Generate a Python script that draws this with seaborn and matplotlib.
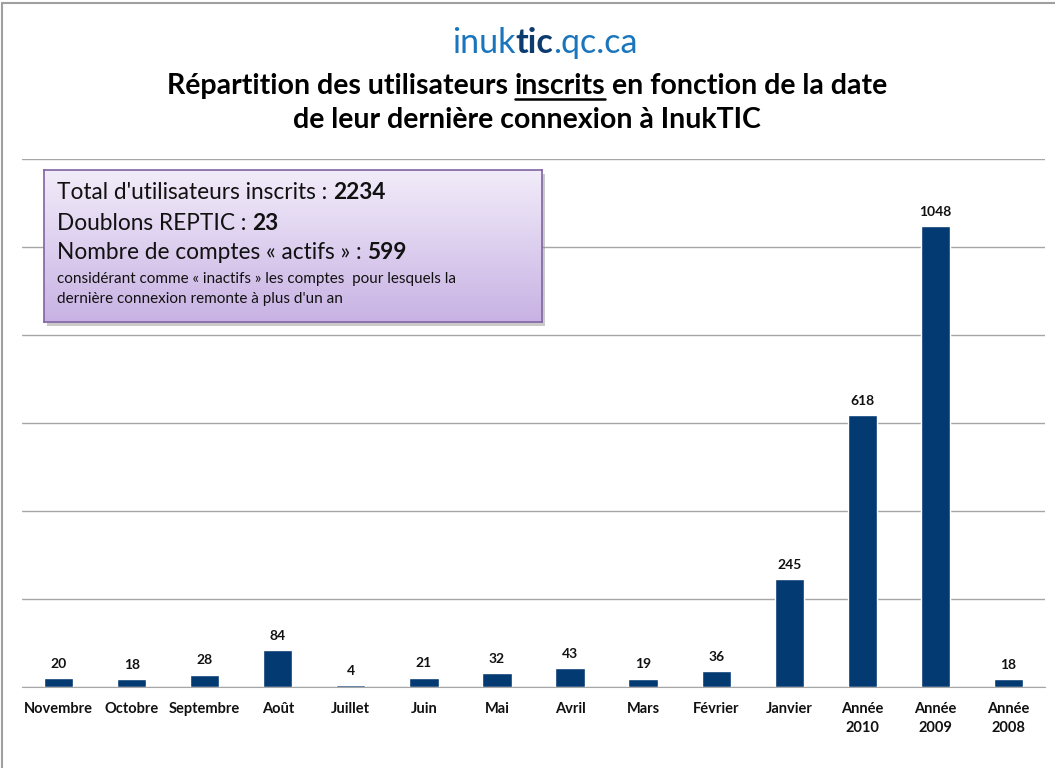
import numpy as np
import matplotlib.pyplot as plt
import seaborn as sns
import pandas as pd
from matplotlib.lines import Line2D
from matplotlib.patches import Rectangle

sns.set_style("white")
plt.rcParams['font.family'] = ['Lato', 'DejaVu Sans']

# data
categories = ["Novembre", "Octobre", "Septembre", "Août", "Juillet", "Juin", "Mai",
              "Avril", "Mars", "Février", "Janvier", "Année\n2010", "Année\n2009", "Année\n2008"]
users = [20, 18, 28, 84, 4, 21, 32, 43, 19, 36, 245, 618, 1048, 18]

site_parts = [("inuk", "normal", "#1a75bc"), ("tic", "bold", "#0c3b6e"), (".qc.ca", "normal", "#1a75bc")]
title_line1 = [("Répartition des utilisateurs", False), ("inscrits", True), ("en fonction de la date", False)]
title_line2 = "de leur dernière connexion à InukTIC"
box_lines = [
    [("Total d'utilisateurs inscrits :", "normal"), ("2234", "bold")],
    [("Doublons REPTIC :", "normal"), ("23", "bold")],
    [("Nombre de comptes « actifs » :", "normal"), ("599", "bold")],
]
box_note = ["considérant comme « inactifs » les comptes  pour lesquels la",
            "dernière connexion remonte à plus d'un an"]

df = pd.DataFrame({"cat": categories, "n": users})

W, H = 1055, 768
fig = plt.figure(figsize=(W / 100, H / 100), dpi=100)
ax = fig.add_axes([22 / W, 1 - 687 / H, (1045 - 22) / W, (687 - 159) / H])

sns.barplot(data=df, x="cat", y="n", color="#043a72", saturation=1, width=0.4, ax=ax)
ax.bar_label(ax.containers[0], labels=[str(v) for v in users], padding=6,
             fontsize=10, fontweight="bold", color="#111111")

ax.set_ylim(0, 1200)
ax.set_xlim(-0.5, len(categories) - 0.5)
ax.set_yticks(np.arange(0, 1201, 200))
ax.set_yticklabels([])
ax.yaxis.grid(True, color="#a6a6a6", linewidth=1)
ax.set_axisbelow(True)
ax.set_xlabel("")
ax.set_ylabel("")
for s in ["left", "right", "top"]:
    ax.spines[s].set_visible(False)
ax.spines["bottom"].set_color("#a6a6a6")
ax.tick_params(axis="y", length=0)
ax.tick_params(axis="x", which="major", length=0, pad=11)
ax.set_xticks(np.arange(-0.5, len(categories), 1), minor=True)
ax.tick_params(axis="x", which="minor", length=5, color="#a6a6a6", direction="out")
for lab in ax.get_xticklabels():
    lab.set_fontweight("bold")
    lab.set_fontsize(10.5)
    lab.set_color("#111111")
    lab.set_linespacing(1.45)

renderer = fig.canvas.get_renderer()


def text_width(s, **kw):
    t = fig.text(0, 0, s, **kw)
    w = t.get_window_extent(renderer).width
    t.remove()
    return w


def rich_line(x_px, y_px, parts, center=False, gap=None, **common):
    # parts: list of (text, props dict)
    widths = [text_width(p, **common, **kp) for p, kp in parts]
    if gap is None:
        gap = text_width("x x", **common) - text_width("xx", **common)
    total = sum(widths) + gap * (len(parts) - 1)
    x = x_px - total / 2 if center else x_px
    out = []
    for (p, kp), w in zip(parts, widths):
        t = fig.text(x / W, 1 - y_px / H, p, va="baseline", ha="left", **common, **kp)
        out.append((t, x, w))
        x += w + gap
    return out


# header
rich_line(545, 53, [(p, {"fontweight": fw, "color": c}) for p, fw, c in site_parts],
          center=True, gap=0, fontsize=24.5)
l1 = rich_line(527, 94, [(p, {}) for p, u in title_line1], center=True,
               fontsize=20.5, fontweight="bold", color="black")
for (t, x, w), (p, u) in zip(l1, title_line1):
    if u:
        fig.add_artist(Line2D([x / W, (x + w) / W], [1 - 99 / H, 1 - 99 / H],
                              color="black", lw=1.8, transform=fig.transFigure))
fig.text(527 / W, 1 - 128 / H, title_line2, ha="center", va="baseline",
         fontsize=20.5, fontweight="bold", color="black")

# outer frame (top + left)
fig.add_artist(Line2D([2 / W, 1], [1 - 3 / H, 1 - 3 / H], color="#a0a0a0", lw=1.5,
                      transform=fig.transFigure))
fig.add_artist(Line2D([2 / W, 2 / W], [0, 1 - 3 / H], color="#a0a0a0", lw=1.5,
                      transform=fig.transFigure))

# annotation box
bx0, by0, bx1, by1 = 44, 170, 542, 322
shadow = Rectangle(((bx0 + 3) / W, 1 - (by1 + 4) / H), (bx1 - bx0) / W, (by1 - by0) / H,
                   transform=fig.transFigure, facecolor="#8a8a8a", alpha=0.45,
                   edgecolor="none", zorder=1)
fig.add_artist(shadow)
bax = fig.add_axes([bx0 / W, 1 - by1 / H, (bx1 - bx0) / W, (by1 - by0) / H])
bax.set_zorder(2)
grad = np.linspace(0, 1, 256).reshape(-1, 1)
c_top = np.array([0xf2, 0xec, 0xf9]) / 255
c_bot = np.array([0xc8, 0xb2, 0xe4]) / 255
img = c_top[None, None, :] * (1 - grad[:, :, None]) + c_bot[None, None, :] * grad[:, :, None]
bax.imshow(img, aspect="auto", extent=[0, 1, 0, 1])
bax.set_xticks([])
bax.set_yticks([])
for s in bax.spines.values():
    s.set_color("#8064a2")
    s.set_linewidth(1.2)

ys = [199, 230, 259]
for yb, parts in zip(ys, box_lines):
    rich_line(57, yb, [(p, {"fontweight": fw}) for p, fw in parts],
              fontsize=16.3, color="#111111")
for yb, line in zip([283, 303], box_note):
    fig.text(57 / W, 1 - yb / H, line, ha="left", va="baseline", fontsize=11,
             color="#111111")

fig.savefig("out.png", dpi=100, facecolor="white")
